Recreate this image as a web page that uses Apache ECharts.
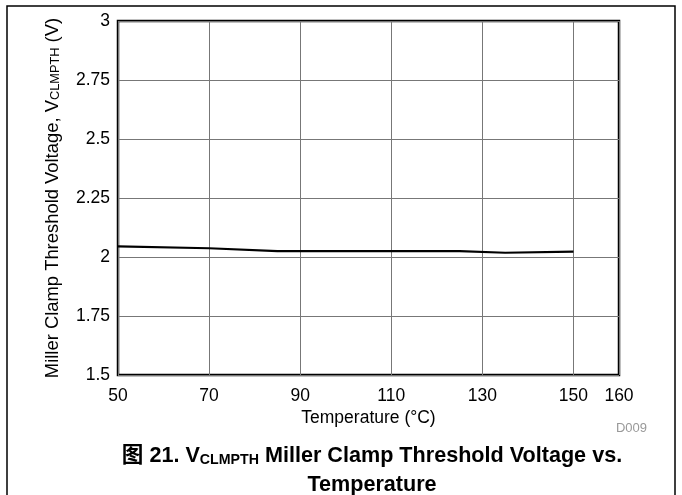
<!DOCTYPE html>
<html>
<head>
<meta charset="utf-8">
<script src="https://cdn.jsdelivr.net/npm/echarts@6/dist/echarts.min.js"></script>
<style>
html,body{margin:0;padding:0;background:#fff;}
#chart{width:682px;height:495px;}
</style>
</head>
<body>
<div id="chart"></div>
<script>
// Data
var temperature = [50, 70, 85, 100, 125, 135, 150];
var vclmpth = [2.045, 2.037, 2.025, 2.025, 2.025, 2.018, 2.023];
var xTicks = { min: 50, max: 160, interval: 20 };
var yTicks = { min: 1.5, max: 3, interval: 0.25 };

var FONT = '"Liberation Sans", Arial, "Noto Sans CJK SC", sans-serif';
var points = temperature.map(function (t, i) { return [t, vclmpth[i]]; });

var chart = echarts.init(document.getElementById('chart'), null, { renderer: 'canvas' });
chart.setOption({
  backgroundColor: '#fff',
  animation: false,
  title: {
    text: '{a|图 21. V}{s|CLMPTH}{a| Miller Clamp Threshold Voltage vs.}\n{a|Temperature}',
    left: 367,
    top: 433,
    textAlign: 'center',
    textStyle: {
      fontFamily: FONT,
      rich: {
        a: { fontFamily: FONT, fontSize: 21.6, fontWeight: 'bold', color: '#000', lineHeight: 29, verticalAlign: 'bottom' },
        s: { fontFamily: FONT, fontSize: 14.2, fontWeight: 'bold', color: '#000', lineHeight: 11, verticalAlign: 'bottom' }
      }
    }
  },
  grid: {
    left: 118, top: 21, right: 682 - 619, bottom: 495 - 375,
    show: true, borderColor: '#000', borderWidth: 2.5, backgroundColor: 'transparent'
  },
  xAxis: {
    type: 'value',
    min: xTicks.min, max: xTicks.max, interval: xTicks.interval,
    name: 'Temperature (°C)',
    nameLocation: 'middle',
    nameGap: 31,
    nameTextStyle: { fontFamily: FONT, fontSize: 17.5, color: '#000' },
    axisLine: { show: false },
    axisTick: { show: false },
    axisLabel: { fontFamily: FONT, fontSize: 17.5, color: '#000', margin: 12 },
    splitLine: { show: true, lineStyle: { color: '#777', width: 1 } }
  },
  yAxis: {
    type: 'value',
    min: yTicks.min, max: yTicks.max, interval: yTicks.interval,
    name: '{a|Miller Clamp Threshold Voltage, V}{s|CLMPTH}{a| (V)}',
    nameLocation: 'middle',
    nameGap: 56,
    nameTextStyle: {
      fontFamily: FONT,
      rich: {
        a: { fontFamily: FONT, fontSize: 18.4, color: '#000', lineHeight: 22, verticalAlign: 'bottom' },
        s: { fontFamily: FONT, fontSize: 12.8, color: '#000', lineHeight: 9, verticalAlign: 'bottom' }
      }
    },
    axisLine: { show: false },
    axisTick: { show: false },
    axisLabel: { fontFamily: FONT, fontSize: 17.5, color: '#000', margin: 8 },
    splitLine: { show: true, lineStyle: { color: '#777', width: 1 } }
  },
  graphic: [
    {
      type: 'polyline',
      shape: { points: [[7, 495], [7, 6], [675, 6], [675, 495]] },
      style: { stroke: '#000', lineWidth: 1.5, fill: null },
      silent: true
    },
    {
      type: 'text',
      right: 682 - 647,
      top: 422,
      style: { text: 'D009', fontFamily: FONT, fontSize: 13, fill: '#999' },
      silent: true
    }
  ],
  series: [{
    type: 'line',
    data: points,
    showSymbol: false,
    symbol: 'none',
    lineStyle: { color: '#000', width: 2.2 },
    z: 5
  }]
});
</script>
</body>
</html>
